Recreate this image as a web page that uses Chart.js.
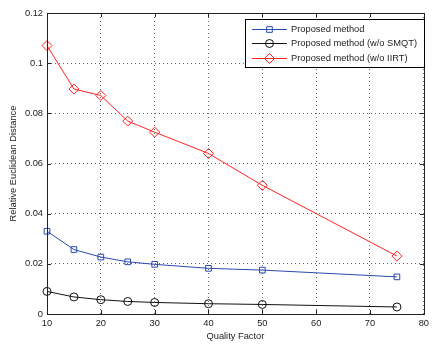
<!DOCTYPE html>
<html>
<head>
<meta charset="utf-8">
<script src="https://cdn.jsdelivr.net/npm/chart.js@4"></script>
<style>
  html, body { margin: 0; padding: 0; background: #fff; }
  #wrap { width: 433px; height: 345px; }
</style>
</head>
<body>
<div id="wrap"><canvas id="chart" width="433" height="345"></canvas></div>
<script>
// chart data
const qualityFactors = [10, 15, 20, 25, 30, 40, 50, 75];
const proposed = [0.033, 0.0257, 0.0227, 0.0208, 0.0198, 0.0182, 0.0175, 0.0148];
const proposedNoSMQT = [0.009, 0.0068, 0.0057, 0.005, 0.0046, 0.0041, 0.0038, 0.0028];
const proposedNoIIRT = [0.107, 0.0897, 0.0871, 0.0769, 0.0725, 0.064, 0.0513, 0.0231];
const seriesNames = ["Proposed method", "Proposed method (w/o SMQT)", "Proposed method (w/o IIRT)"];
const xTicks = [10, 20, 30, 40, 50, 60, 70, 80];
const yTicks = [0, 0.02, 0.04, 0.06, 0.08, 0.1, 0.12];

const FONT = "'Liberation Sans', Arial, sans-serif";

function toPoints(vals) {
    return qualityFactors.map((q, i) => ({ x: q, y: vals[i] }));
}

// frame, inward ticks and boxed legend (matlab look)
const framePlugin = {
    id: "frame",
    afterDatasetsDraw(chart) {
        const ctx = chart.ctx;
        const a = chart.chartArea;
        const xs = chart.scales.x, ys = chart.scales.y;
        ctx.save();
        ctx.strokeStyle = "#222";
        ctx.lineWidth = 1;
        ctx.strokeRect(Math.round(a.left) + 0.5, Math.round(a.top) + 0.5,
            Math.round(a.right - a.left), Math.round(a.bottom - a.top));
        ctx.beginPath();
        xTicks.forEach(t => {
            const px = Math.round(xs.getPixelForValue(t)) + 0.5;
            ctx.moveTo(px, a.bottom); ctx.lineTo(px, a.bottom - 4);
            ctx.moveTo(px, a.top); ctx.lineTo(px, a.top + 4);
        });
        yTicks.forEach(t => {
            const py = Math.round(ys.getPixelForValue(t)) + 0.5;
            ctx.moveTo(a.left, py); ctx.lineTo(a.left + 4, py);
            ctx.moveTo(a.right, py); ctx.lineTo(a.right - 4, py);
        });
        ctx.stroke();

        // legend box
        const bx = 245.5, by = 19.5, bw = 179, bh = 48;
        ctx.fillStyle = "#fff";
        ctx.fillRect(bx, by, bw, bh);
        ctx.strokeStyle = "#000";
        ctx.strokeRect(bx, by, bw, bh);
        const rows = [29, 43, 58];
        chart.data.datasets.forEach((ds, i) => {
            const y = rows[i];
            ctx.strokeStyle = ds.borderColor;
            ctx.lineWidth = 1;
            ctx.beginPath();
            ctx.moveTo(252, y + 0.5); ctx.lineTo(287, y + 0.5);
            ctx.stroke();
            ctx.fillStyle = "rgba(0,0,0,0)";
            Chart.helpers.drawPoint(ctx, {
                pointStyle: ds.pointStyle, radius: ds.pointRadius, rotation: 0, borderWidth: 1
            }, 269.5, y + 0.5);
            ctx.fillStyle = "#222";
            ctx.font = "9.3px " + FONT;
            ctx.textBaseline = "middle";
            ctx.textAlign = "left";
            ctx.fillText(seriesNames[i], 291, y + 0.5);
        });
        ctx.restore();
    }
};

const ctx = document.getElementById("chart").getContext("2d");
new Chart(ctx, {
    type: "line",
    data: {
        datasets: [
            {
                label: seriesNames[0], data: toPoints(proposed),
                borderColor: "#2a4aad", pointBorderColor: "#2a4aad",
                pointStyle: "rect", pointRadius: 4
            },
            {
                label: seriesNames[1], data: toPoints(proposedNoSMQT),
                borderColor: "#111", pointBorderColor: "#111",
                pointStyle: "circle", pointRadius: 4
            },
            {
                label: seriesNames[2], data: toPoints(proposedNoIIRT),
                borderColor: "#f22", pointBorderColor: "#f22",
                pointStyle: "rectRot", pointRadius: 5
            }
        ].map(d => Object.assign(d, {
            borderWidth: 1, pointBorderWidth: 1, pointBackgroundColor: "rgba(0,0,0,0)",
            tension: 0, fill: false, clip: false
        }))
    },
    options: {
        responsive: false,
        animation: false,
        layout: { padding: { left: 8, right: 4, top: 13, bottom: 3 } },
        plugins: { legend: { display: false }, tooltip: { enabled: false } },
        scales: {
            x: {
                type: "linear", min: 10, max: 80,
                afterBuildTicks: s => { s.ticks = xTicks.map(v => ({ value: v })); },
                afterFit: s => { s.height = 28; },
                grid: { color: "#666", tickLength: 0, drawTicks: false },
                border: { display: false, dash: [1, 3] },
                ticks: { color: "#222", font: { family: FONT, size: 9.3 }, padding: 4, maxRotation: 0 },
                title: { display: true, text: "Quality Factor", color: "#222", font: { family: FONT, size: 9.3 }, padding: { top: 1, bottom: 0 } }
            },
            y: {
                min: 0, max: 0.12,
                afterBuildTicks: s => { s.ticks = yTicks.map(v => ({ value: v })); },
                afterFit: s => { s.width = 39; },
                grid: { color: "#666", tickLength: 0, drawTicks: false },
                border: { display: false, dash: [1, 3] },
                ticks: { color: "#222", font: { family: FONT, size: 9.3 }, padding: 4, callback: v => String(Math.round(v * 100) / 100) },
                title: { display: true, text: "Relative Euclidean Distance", color: "#222", font: { family: FONT, size: 9.3 }, padding: { top: 0, bottom: 2 } }
            }
        }
    },
    plugins: [framePlugin]
});
</script>
</body>
</html>
